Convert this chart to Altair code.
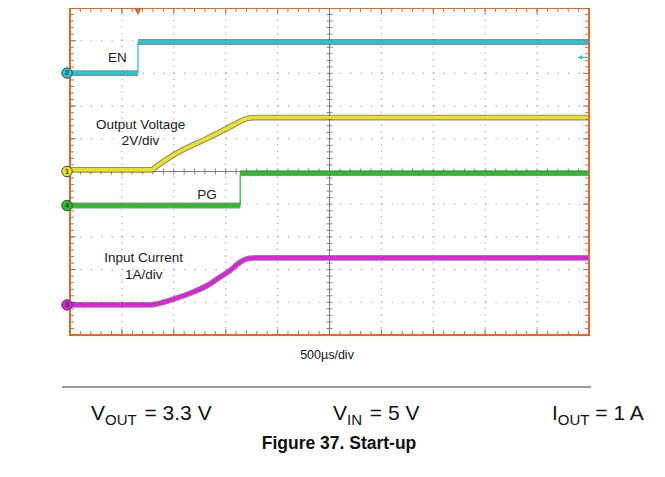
import altair as alt
import pandas as pd

FONT = "Liberation Sans"

# ---- scope traces: time in µs (500 µs/div), level in screen divisions (0 = bottom, 10 = top)
en_time = [0, 655, 655, 5000]
en_level = [8.01, 8.01, 8.96, 8.96]

vout_time = [0, 790, 830, 990, 1320, 1515, 1640, 1705, 1800, 5000]
vout_level = [5.05, 5.05, 5.15, 5.49, 6.01, 6.32, 6.53, 6.62, 6.65, 6.65]

pg_time = [0, 1640, 1640, 5000]
pg_level = [3.96, 3.96, 4.95, 4.95]

iin_time = [0, 770, 865, 990, 1185, 1320, 1445, 1540, 1640, 1705, 1800, 5000]
iin_level = [0.92, 0.92, 0.97, 1.09, 1.31, 1.51, 1.77, 1.97, 2.23, 2.33, 2.36, 2.36]

channels = ["EN", "Output Voltage", "PG", "Input Current"]
channel_numbers = ["2", "1", "4", "3"]
channel_colors = ["#1fc8d2", "#ece21a", "#22c422", "#e21ee2"]
channel_ref_levels = [8.01, 5.0, 3.96, 0.92]

x_divisions = 10
y_divisions = 10
us_per_div = 500

W, H = 519, 327
XS = alt.Scale(domain=[0, x_divisions * us_per_div], nice=False, zero=False)
YS = alt.Scale(domain=[0, y_divisions], nice=False, zero=False)
one = pd.DataFrame({"k": [0]})


def split_trace(name, times, levels):
    segs, edges = [], []
    seg = 0
    for i, (t, v) in enumerate(zip(times, levels)):
        if i > 0 and t == times[i - 1]:
            edges.append({"ch": name, "t": t, "v0": levels[i - 1], "v1": v})
            seg += 1
        segs.append({"ch": name, "seg": f"{name}-{seg}", "t": t, "v": v})
    return segs, edges


rows, edge_rows = [], []
for name, tt, vv in [("EN", en_time, en_level), ("Output Voltage", vout_time, vout_level),
                     ("PG", pg_time, pg_level), ("Input Current", iin_time, iin_level)]:
    s, e = split_trace(name, tt, vv)
    rows += s
    edge_rows += e
traces = pd.DataFrame(rows)
edges = pd.DataFrame(edge_rows)

color_scale = alt.Scale(domain=channels, range=channel_colors)

X = lambda f: alt.X(f, type="quantitative", scale=XS, axis=None)
Y = lambda f: alt.Y(f, type="quantitative", scale=YS, axis=None)

# ---- graticule
grid_x = pd.DataFrame({"t": [k * us_per_div for k in range(1, x_divisions) if k != x_divisions // 2]})
grid_y = pd.DataFrame({"v": [k for k in range(1, y_divisions) if k != y_divisions // 2]})
minor_x = pd.DataFrame({"t": [k * us_per_div / 5 for k in range(1, x_divisions * 5)]})
minor_y = pd.DataFrame({"v": [k / 5 for k in range(1, y_divisions * 5)]})
major_x = pd.DataFrame({"t": [k * us_per_div for k in range(1, x_divisions)]})
major_y = pd.DataFrame({"v": [k for k in range(1, y_divisions)]})

GRID = "#a0a0a0"
TICK = "#808080"

vgrid = alt.Chart(grid_x).mark_rule(color=GRID, strokeWidth=1.1, strokeDash=[1.2, 5.34]).encode(
    x=X("t"), y=alt.Y(datum=0, scale=YS, axis=None), y2=alt.datum(10))
hgrid = alt.Chart(grid_y).mark_rule(color=GRID, strokeWidth=1.1, strokeDash=[1.2, 9.18]).encode(
    y=Y("v"), x=alt.X(datum=0, scale=XS, axis=None), x2=alt.datum(5000))
vcenter = alt.Chart(one).mark_rule(color="#7a7a7a", strokeWidth=1).encode(
    x=alt.X(datum=2500, scale=XS, axis=None), y=alt.Y(datum=0, scale=YS, axis=None), y2=alt.datum(10))
hcenter = alt.Chart(one).mark_rule(color="#7a7a7a", strokeWidth=1).encode(
    y=alt.Y(datum=5, scale=YS, axis=None), x=alt.X(datum=0, scale=XS, axis=None), x2=alt.datum(5000))


def xticks(df, yd, off1, off2):
    return alt.Chart(df).mark_rule(color=TICK, strokeWidth=1, yOffset=off1, y2Offset=off2).encode(
        x=X("t"), y=alt.Y(datum=yd, scale=YS, axis=None), y2=alt.datum(yd))


def yticks(df, xd, off1, off2):
    return alt.Chart(df).mark_rule(color=TICK, strokeWidth=1, xOffset=off1, x2Offset=off2).encode(
        y=Y("v"), x=alt.X(datum=xd, scale=XS, axis=None), x2=alt.datum(xd))


ticks = [
    xticks(minor_x, 0, 0, -4), xticks(minor_x, 10, 0, 4),
    xticks(major_x, 0, 0, -6), xticks(major_x, 10, 0, 6),
    yticks(minor_y, 0, 0, 4), yticks(minor_y, 5000, 0, -4),
    yticks(major_y, 0, 0, 6), yticks(major_y, 5000, 0, -6),
    xticks(minor_x, 5, -3, 3), yticks(minor_y, 2500, -3, 3),
]

# ---- traces
under = alt.Chart(traces).mark_line(color="#303030", strokeWidth=5.8, opacity=0.55,
                                    interpolate="monotone", strokeCap="butt").encode(
    x=X("t"), y=Y("v"), detail="seg:N")
over = alt.Chart(traces).mark_line(strokeWidth=3.6, interpolate="monotone", strokeCap="butt").encode(
    x=X("t"), y=Y("v"), detail="seg:N",
    color=alt.Color("ch:N", scale=color_scale, legend=None))
edge_marks = alt.Chart(edges).mark_rule(strokeWidth=1.3).encode(
    x=X("t"), y=Y("v0"), y2="v1", color=alt.Color("ch:N", scale=color_scale, legend=None))

# ---- frame
ORANGE = "#e8661e"
frame = alt.Chart(one).mark_rect(fill="transparent", stroke=ORANGE, strokeWidth=2).encode(
    x=alt.X(datum=0, scale=XS, axis=None), x2=alt.datum(5000),
    y=alt.Y(datum=0, scale=YS, axis=None), y2=alt.datum(10))
trigger = alt.Chart(one).mark_point(shape="triangle-down", filled=True, color=ORANGE, size=45,
                                    opacity=1, yOffset=4).encode(
    x=alt.X(datum=en_time[1], scale=XS, axis=None), y=alt.Y(datum=10, scale=YS, axis=None))
trig_line = alt.Chart(one).mark_rule(color=channel_colors[0], strokeWidth=1.3, xOffset=-9, x2Offset=-1).encode(
    x=alt.X(datum=5000, scale=XS, axis=None), x2=alt.datum(5000),
    y=alt.Y(datum=8.49, scale=YS, axis=None))
trig_arrow = alt.Chart(one).mark_point(shape="triangle-left", filled=True, color=channel_colors[0],
                                       size=22, opacity=1, xOffset=-9).encode(
    x=alt.X(datum=5000, scale=XS, axis=None), y=alt.Y(datum=8.49, scale=YS, axis=None))

# ---- channel markers
mk = pd.DataFrame({"ch": channels, "num": channel_numbers, "v": channel_ref_levels,
                   "t": [0] * 4})
markers = alt.Chart(mk).mark_point(shape="circle", filled=True, size=110, opacity=1,
                                   stroke="#444", strokeWidth=1, xOffset=-3).encode(
    x=X("t"), y=Y("v"), fill=alt.Fill("ch:N", scale=color_scale, legend=None))
marker_txt = alt.Chart(mk).mark_text(fontSize=7.5, fontWeight="bold", font=FONT, color="#333",
                                     xOffset=-3, baseline="middle", align="center").encode(
    x=X("t"), y=Y("v"), text="num:N")


# ---- labels
def label(s, t, v, size=13.5):
    return alt.Chart(one).mark_text(text=s, font=FONT, fontSize=size, color="#1a1a1a",
                                    align="center", baseline="middle").encode(
        x=alt.X(datum=t, scale=XS, axis=None), y=alt.Y(datum=v, scale=YS, axis=None))


labels = [
    label("EN", 457, 8.47),
    label("Output Voltage", 680, 6.41),
    label("2V/div", 680, 5.92),
    label("PG", 1320, 4.28),
    label("Input Current", 710, 2.35),
    label("1A/div", 710, 1.83),
]


def ptext(s, x, y, size, weight="normal", align="left", baseline="alphabetic"):
    return alt.Chart(one).mark_text(text=s, font=FONT, fontSize=size, fontWeight=weight,
                                    color="#111", align=align, baseline=baseline).encode(
        x=alt.value(x), y=alt.value(y))


F, S = 21, 15          # main and subscript font sizes of the condition line
SP = 0.278 * F         # width of a space


def cond(main, sub, rest, x, y, main_w, sub_w, gap=0):
    return [ptext(main, x, y, F), ptext(sub, x + main_w * F, y + 4.5, S),
            ptext(rest, x + main_w * F + sub_w * S + SP + gap, y, F)]


below = [
    ptext("500µs/div", 257, 347, 12.5, align="center", baseline="middle"),
    alt.Chart(one).mark_rule(color="#777", strokeWidth=1.3).encode(
        x=alt.value(-8), x2=alt.value(521), y=alt.value(379)),
    *cond("V", "OUT", "= 3.3 V", 21, 412, 0.667, 2.111, gap=2),
    *cond("V", "IN", "= 5 V", 263, 412, 0.667, 1.0, gap=2),
    *cond("I", "OUT", "= 1 A", 482, 412, 0.278, 2.111),
    ptext("Figure 37. Start-up", 269, 441, 17.5, weight="bold", align="center"),
]

chart = alt.layer(
    vgrid, hgrid, vcenter, hcenter, *ticks,
    under, edge_marks, over,
    frame, trigger, trig_line, trig_arrow, markers, marker_txt,
    *labels, *below,
).properties(
    width=W, height=H,
    padding={"left": 62, "top": 0, "right": 68, "bottom": 134},
    autosize="none",
).configure_view(strokeWidth=0).configure(background="white")

chart.save("out.html", embed_options={"renderer": "svg", "actions": False})
